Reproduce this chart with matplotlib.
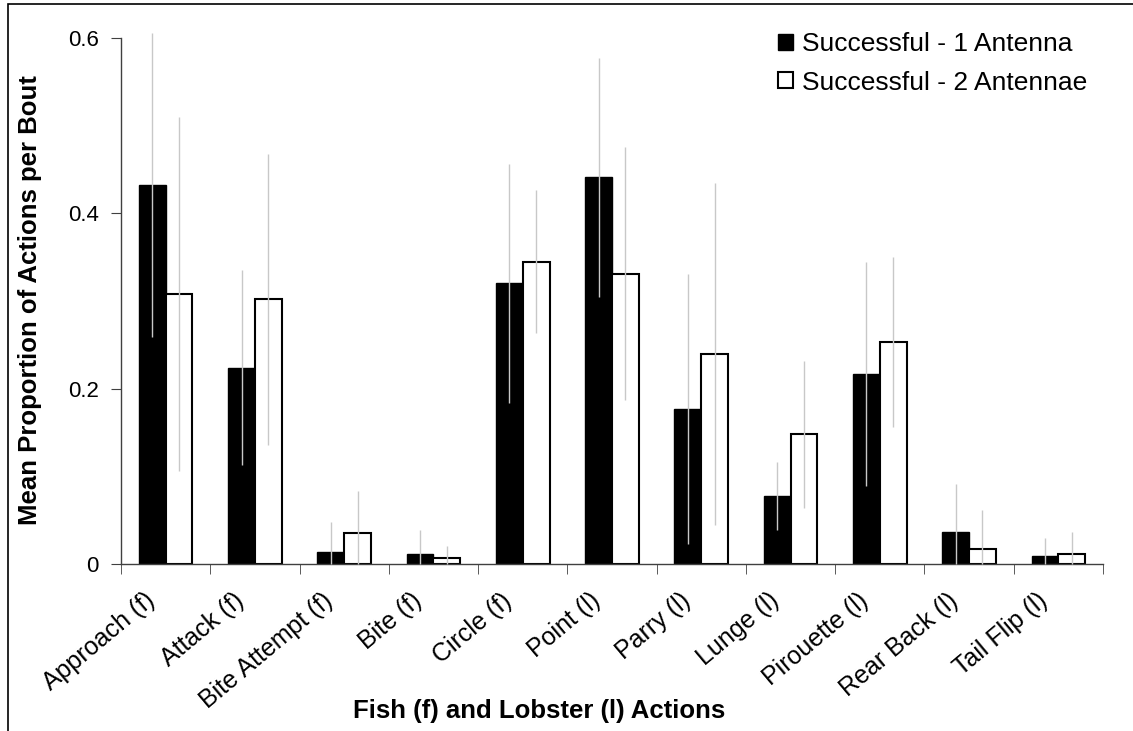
import numpy as np
import matplotlib.pyplot as plt
from matplotlib.patches import Rectangle

plt.rcParams['font.family'] = ['Liberation Sans', 'DejaVu Sans']

actions = ['Approach (f)', 'Attack (f)', 'Bite Attempt (f)', 'Bite (f)', 'Circle (f)',
           'Point (l)', 'Parry (l)', 'Lunge (l)', 'Pirouette (l)', 'Rear Back (l)',
           'Tail Flip (l)']
one_antenna = [0.432, 0.224, 0.014, 0.012, 0.320, 0.441, 0.177, 0.078, 0.217, 0.037, 0.010]
one_err = [0.173, 0.111, 0.034, 0.027, 0.136, 0.136, 0.154, 0.039, 0.128, 0.054, 0.020]
two_antennae = [0.308, 0.302, 0.036, 0.007, 0.345, 0.331, 0.240, 0.148, 0.253, 0.017, 0.012]
two_err = [0.202, 0.166, 0.048, 0.014, 0.082, 0.144, 0.195, 0.084, 0.097, 0.045, 0.025]

W, H = 1133, 731
fig = plt.figure(figsize=(W / 100, H / 100), dpi=100)
ax = fig.add_axes([121 / W, 1 - 564.3 / H, (1103 - 121) / W, (564.3 - 37.7) / H])

# frame around the whole figure (only left/top edges fall inside)
fig.patches.append(Rectangle((8 / W, -0.1), 1.2, 1.1 - 4 / H,
                             transform=fig.transFigure, fill=False,
                             edgecolor='black', linewidth=1.2))

x = np.arange(len(actions))
w = 0.3

def lower(vals, errs):
    # error bars stop at the axis floor
    return [min(v, e) for v, e in zip(vals, errs)]

ax.bar(x - w / 2, one_antenna, w, color='black', edgecolor='black', linewidth=1,
       label='Successful - 1 Antenna', zorder=2)
ax.bar(x + w / 2, two_antennae, w, color='white', edgecolor='black', linewidth=1.5,
       label='Successful - 2 Antennae', zorder=2)
ax.errorbar(x - w / 2, one_antenna, yerr=[lower(one_antenna, one_err), one_err],
            fmt='none', ecolor='#c8c8c8', elinewidth=1, capsize=0, zorder=3, clip_on=False)
ax.errorbar(x + w / 2, two_antennae, yerr=[lower(two_antennae, two_err), two_err],
            fmt='none', ecolor='#c8c8c8', elinewidth=1, capsize=0, zorder=3, clip_on=False)

ax.set_xlim(-0.5, len(actions) - 0.5)
ax.set_ylim(0, 0.6)
ax.set_yticks([0, 0.2, 0.4, 0.6])
ax.set_yticklabels(['0', '0.2', '0.4', '0.6'], fontsize=16)

# rotated labels sit a little left of the group centres (invisible major ticks)
ax.set_xticks(x - 0.16)
ax.set_xticklabels(actions, fontsize=18, rotation=40, ha='right',
                   rotation_mode='anchor', va='center')
ax.set_xticks(np.arange(len(actions) + 1) - 0.5, minor=True)
ax.tick_params(axis='x', which='major', length=0, pad=24)
ax.tick_params(axis='x', which='minor', length=7, direction='out', color='#404040')
ax.tick_params(axis='y', length=7, direction='out', color='#404040', pad=9)

for s in ['top', 'right']:
    ax.spines[s].set_visible(False)
for s in ['left', 'bottom']:
    ax.spines[s].set_color('#404040')
    ax.spines[s].set_linewidth(1)

fig.text(30 / W, 1 - 300 / H, 'Mean Proportion of Actions per Bout', rotation=90,
         fontsize=18.5, fontweight='bold', ha='center', va='center')
fig.text(539 / W, 1 - 718 / H, 'Fish (f) and Lobster (l) Actions',
         fontsize=18.5, fontweight='bold', ha='center', va='baseline')

fig.legend(*ax.get_legend_handles_labels(), loc='upper left',
           bbox_to_anchor=(778 / W, 1 - 32 / H), frameon=False, fontsize=19,
           handlelength=0.55, handleheight=0.55, handletextpad=0.35, labelspacing=0.55,
           borderaxespad=0, borderpad=0)

fig.savefig('out.png', dpi=100)
